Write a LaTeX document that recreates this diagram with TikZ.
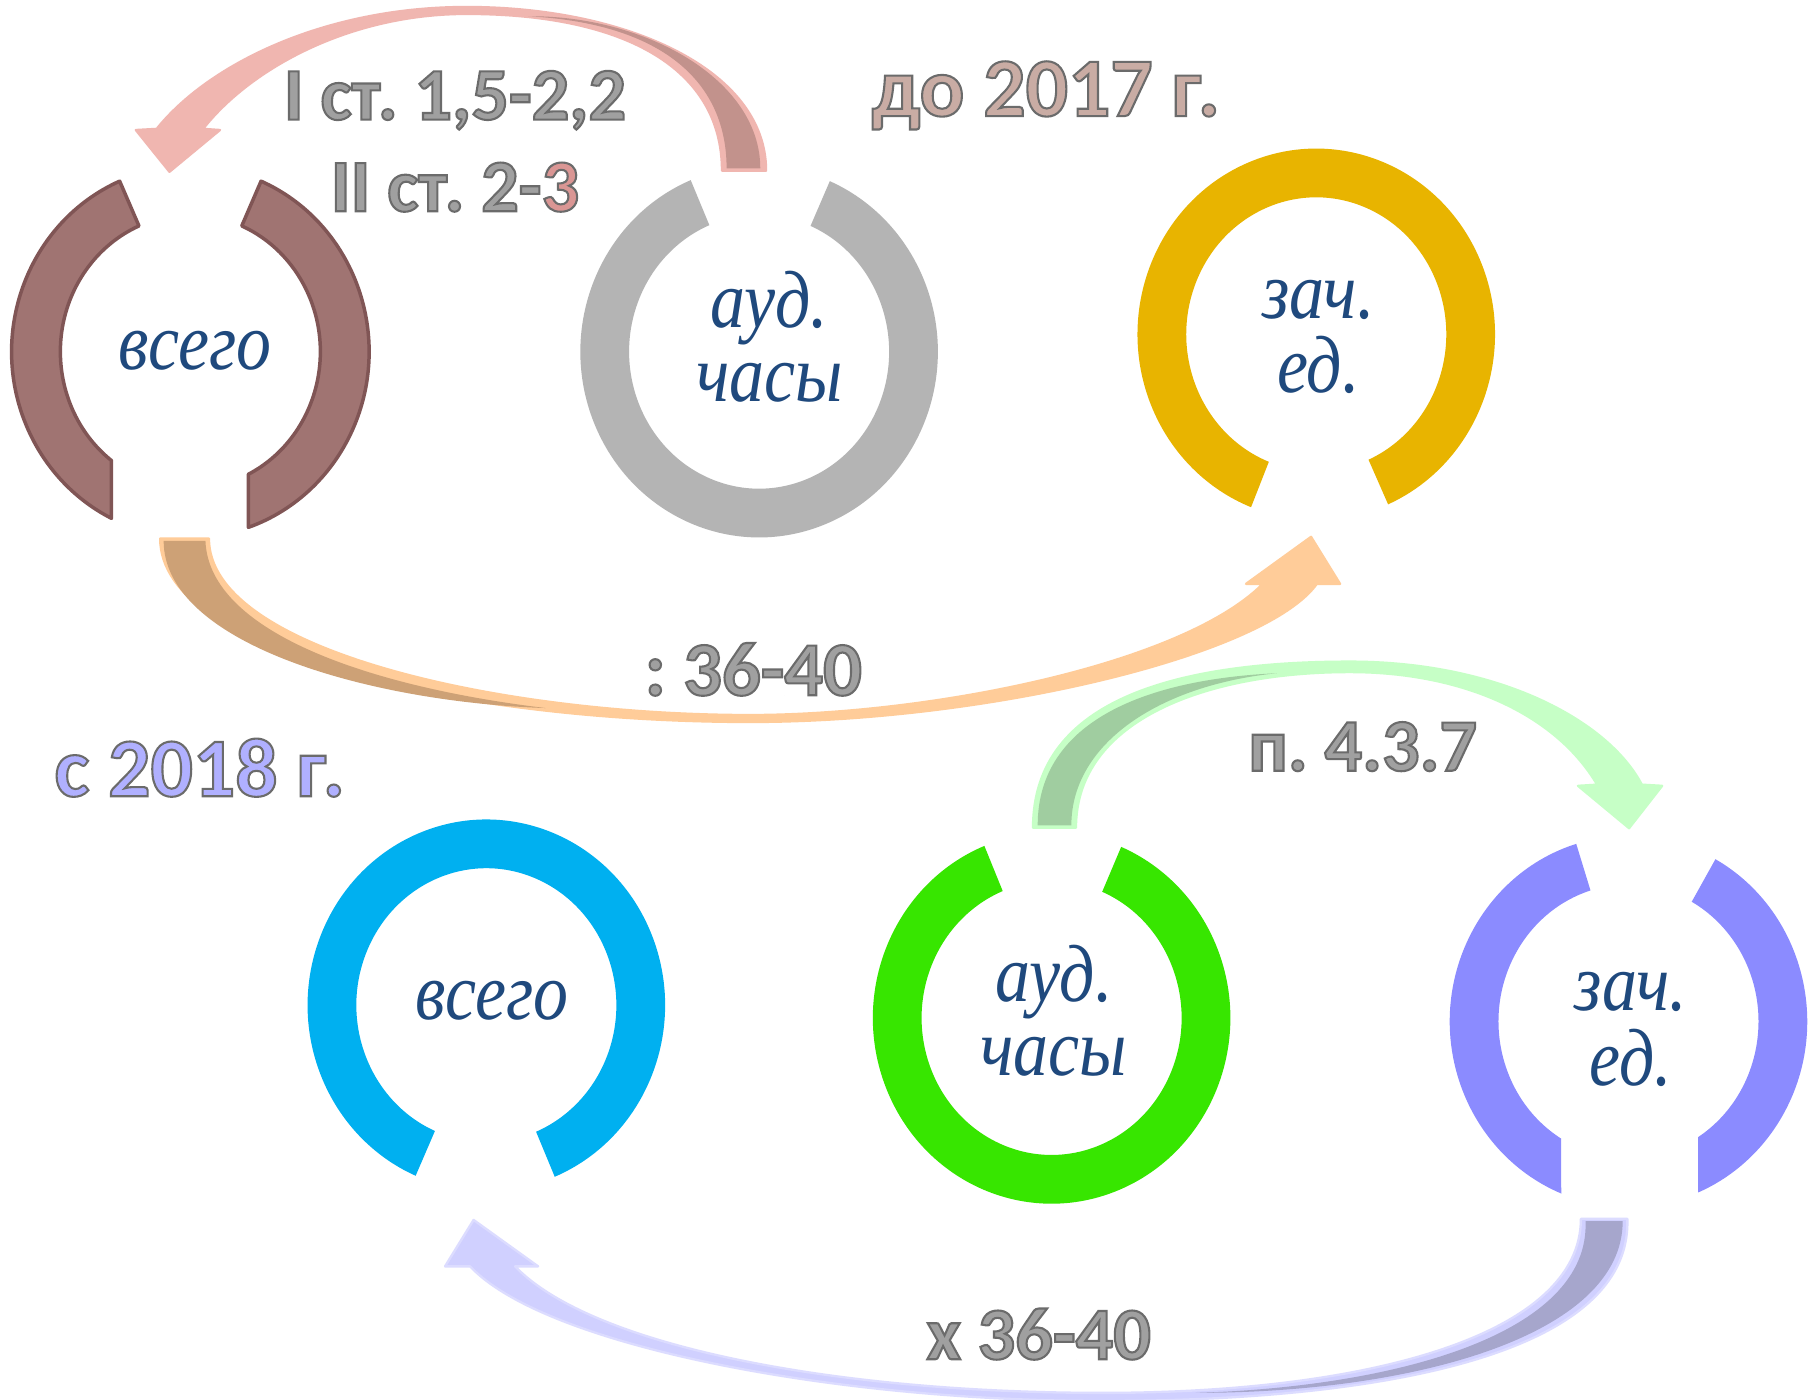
\documentclass[tikz,border=0pt]{standalone}
\usepackage{fontspec}
\usetikzlibrary{calc}
\newfontfamily\ringfont{Liberation Serif}[FakeStretch=0.86]
\newfontfamily\lblfont{Carlito}
\frenchspacing
\definecolor{txtblue}{RGB}{31,73,125}
\definecolor{lblgray}{RGB}{160,160,160}
\definecolor{redthree}{RGB}{218,150,148}
\definecolor{oldyear}{RGB}{201,172,164}
\definecolor{newyear}{RGB}{176,176,255}
\definecolor{brownF}{RGB}{160,116,114}
\definecolor{brownD}{RGB}{128,85,85}
\definecolor{grayF}{RGB}{180,180,180}
\definecolor{goldF}{RGB}{232,180,0}
\definecolor{blueF}{RGB}{0,176,240}
\definecolor{greenF}{RGB}{55,230,0}
\definecolor{lavF}{RGB}{139,139,255}
\definecolor{pinkL}{RGB}{240,182,176}
\definecolor{pinkD}{RGB}{194,146,140}
\definecolor{orangeL}{RGB}{255,204,153}
\definecolor{orangeD}{RGB}{205,161,118}
\definecolor{greenL}{RGB}{198,255,198}
\definecolor{greenD}{RGB}{160,205,160}
\definecolor{lavL}{RGB}{208,208,255}
\definecolor{lavB}{RGB}{220,220,255}
\definecolor{lavD}{RGB}{166,166,204}
% outlined text (fill + grey stroke)
\newcommand\olon{\special{pdf:literal direct 2 Tr 0.9 w 0.42 0.42 0.42 RG}}
\newcommand\oloff{\special{pdf:literal direct 0 Tr}}
\tikzset{
  ringtxt/.style={font=\ringfont\itshape\fontsize{35}{32}\selectfont, text=txtblue, align=center, inner sep=0pt},
  lbl/.style={text=lblgray, inner sep=0pt, anchor=base},
  ringbrown/.style={fill=brownF, draw=brownD, line width=1.5pt, line join=round},
  arrowbody/.style={line width=1pt, line join=round},
}
\begin{document}
\begin{tikzpicture}[x=0.5pt,y=-0.5pt]
\fill[white] (0,0) rectangle (1568,1206);
\useasboundingbox (0,0) rectangle (1568,1206);

% ring centres
\coordinate (c1) at (164,303);
\coordinate (c2) at (654,303);
\coordinate (c3) at (1134,288);
\coordinate (c4) at (419,866);
\coordinate (c5) at (906,877);
\coordinate (c6) at (1403,880);

% ---------- rings ----------
% brown (всего, top)
\path[ringbrown] ($(c1)+(-113.3:154 and 160)$) arc[start angle=-113.3, end angle=-243.8, x radius=154, y radius=160]
  -- ($(c1)+(-232.6:112 and 118)$) arc[start angle=-232.6, end angle=-113.3, x radius=112, y radius=118] -- cycle;
\path[ringbrown] ($(c1)+(-66.7:154 and 160)$) arc[start angle=-66.7, end angle=71.05, x radius=154, y radius=160]
  -- ($(c1)+(63.5:112 and 118)$) arc[start angle=63.5, end angle=-66.7, x radius=112, y radius=118] -- cycle;
% gray (ауд. часы, top)
\fill[grayF] ($(c2)+(-112.5:154 and 160)$) arc[start angle=-112.5, end angle=-426.7, x radius=154, y radius=160]
  -- ($(c2)+(-426.7:112 and 118)$) arc[start angle=-426.7, end angle=-112.5, x radius=112, y radius=118] -- cycle;
% gold (зач. ед., top)
\fill[goldF] ($(c3)+(66.3:154 and 160)$) arc[start angle=66.3, end angle=-248.6, x radius=154, y radius=160]
  -- ($(c3)+(-248.6:112 and 118)$) arc[start angle=-248.6, end angle=66.3, x radius=112, y radius=118] -- cycle;
% blue (всего, bottom)
\fill[blueF] ($(c4)+(67.5:154 and 160)$) arc[start angle=67.5, end angle=-246.7, x radius=154, y radius=160]
  -- ($(c4)+(-246.7:112 and 118)$) arc[start angle=-246.7, end angle=67.5, x radius=112, y radius=118] -- cycle;
% green (ауд. часы, bottom)
\fill[greenF] ($(c5)+(-112.1:154 and 160)$) arc[start angle=-112.1, end angle=-427.1, x radius=154, y radius=160]
  -- ($(c5)+(-427.1:112 and 118)$) arc[start angle=-427.1, end angle=-112.1, x radius=112, y radius=118] -- cycle;
% lavender (зач. ед., bottom)
\fill[lavF] ($(c6)+(-107:154 and 160)$) arc[start angle=-107, end angle=-247.9, x radius=154, y radius=160]
  -- ($(c6)+(-238.8:112 and 118)$) arc[start angle=-238.8, end angle=-107, x radius=112, y radius=118] -- cycle;
\fill[lavF] ($(c6)+(-60.9:154 and 160)$) arc[start angle=-60.9, end angle=67.07, x radius=154, y radius=160]
  -- ($(c6)+(57.6:112 and 118)$) arc[start angle=57.6, end angle=-60.9, x radius=112, y radius=118] -- cycle;

% ---------- arrows ----------
% pink: ауд. часы -> всего (top)
\coordinate (pinkTail) at (641,147);
\coordinate (pinkTip) at (146,148);
\filldraw[arrowbody, fill=pinkL, draw=pinkL]
  (660,147) .. controls (660,60) and (540,6) .. (402,6)
  .. controls (280,6) and (180,55) .. (135,111)
  -- (117,112) -- (pinkTip) -- (189.5,112) -- (175,111)
  .. controls (215,60) and (300,12) .. (402,12)
  .. controls (540,12) and (622,60) .. (622,147) -- cycle;
\fill[pinkD]
  (455,14) .. controls (570,20) and (626,70) .. (626,145)
  -- (655,145) .. controls (655,68) and (555,13) .. (455,14) -- cycle;

% orange: всего -> зач. ед. (top)
\coordinate (orTail) at (159,464);
\coordinate (orTip) at (1129.5,462.5);
\filldraw[arrowbody, fill=orangeL, draw=orangeL]
  (138,464) .. controls (138,564) and (400,622) .. (646,622)
  .. controls (850,622) and (1090,565) .. (1134.5,503)
  -- (1154.5,503) -- (orTip) -- (1073.5,503) -- (1088,503)
  .. controls (1018,573) and (800,616) .. (646,616)
  .. controls (430,616) and (180,560) .. (180,464) -- cycle;
\fill[orangeD]
  (141,466) .. controls (141,555) and (320,605) .. (470,610)
  .. controls (320,592) and (180,545) .. (177,466) -- cycle;

% green: ауд. часы -> зач. ед. (bottom)
\coordinate (grTail) at (908,713);
\coordinate (grTip) at (1403.5,713.5);
\filldraw[arrowbody, fill=greenL, draw=greenL]
  (890,713) .. controls (890,600) and (1020,570) .. (1163,570)
  .. controls (1290,570) and (1385,620) .. (1414.5,676)
  -- (1432,677) -- (grTip) -- (1359.5,677) -- (1376,676)
  .. controls (1340,615) and (1260,579) .. (1163,579)
  .. controls (1040,579) and (927,620) .. (927,713) -- cycle;
\fill[greenD]
  (923,711) .. controls (923,640) and (1000,590) .. (1100,580)
  .. controls (990,585) and (894,620) .. (894,711) -- cycle;

% lavender: зач. ед. -> всего (bottom)
\coordinate (lavTail) at (1382,1050);
\coordinate (lavTip) at (408,1051);
\filldraw[arrowbody, fill=lavL, draw=lavB]
  (1402,1050) .. controls (1406,1170) and (1180,1207) .. (950,1207)
  .. controls (720,1207) and (470,1160) .. (405,1091)
  -- (383.4,1091) -- (lavTip) -- (463.6,1091) -- (443.7,1091)
  .. controls (510,1160) and (720,1200) .. (950,1200)
  .. controls (1180,1200) and (1362,1150) .. (1362,1050) -- cycle;
\fill[lavD]
  (1366,1052) .. controls (1370,1150) and (1200,1195) .. (1030,1200)
  .. controls (1220,1200) and (1398,1150) .. (1398,1052) -- cycle;

% ---------- ring texts ----------
\node[ringtxt, anchor=base] (t1) at (168,318) {всего};
\node[ringtxt] (t2) at (663,290) {ауд.\\часы};
\node[ringtxt] (t3) at (1136,290) {зач.\\ед.};
\node[ringtxt, anchor=base] (t4) at (424,878) {всего};
\node[ringtxt] (t5) at (908,871) {ауд.\\часы};
\node[ringtxt] (t6) at (1405,887) {зач.\\ед.};

% ---------- labels ----------
\node[lbl, font=\lblfont\bfseries\fontsize{32}{36}\selectfont] (l1) at (392,103) {\olon I ст. 1,5-2,2\oloff};
\node[lbl, font=\lblfont\bfseries\fontsize{32}{36}\selectfont] (l2) at (392,182) {\olon II ст. 2-\textcolor{redthree}{\olon 3}\oloff};
\node[lbl, font=\lblfont\bfseries\fontsize{36}{40}\selectfont, text=oldyear] (l3) at (901,100) {\olon до 2017 г.\oloff};
\node[lbl, font=\lblfont\bfseries\fontsize{33}{37}\selectfont] (l4) at (649,599) {\olon : 36-40\oloff};
\node[lbl, font=\lblfont\bfseries\fontsize{36}{40}\selectfont, text=newyear] (l5) at (172,686) {\olon с 2018 г.\oloff};
\node[lbl, font=\lblfont\bfseries\fontsize{32}{36}\selectfont] (l6) at (1174,664) {\olon п. 4.3.7\oloff};
\node[lbl, font=\lblfont\bfseries\fontsize{32}{36}\selectfont] (l7) at (895,1171) {\olon х 36-40\oloff};
\end{tikzpicture}
\end{document}
